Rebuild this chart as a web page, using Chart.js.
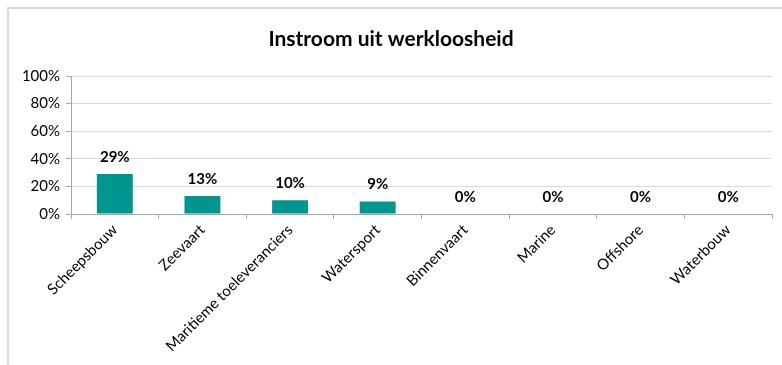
<!DOCTYPE html>
<html>
<head>
<meta charset="utf-8">
<script src="https://cdn.jsdelivr.net/npm/chart.js@4"></script>
<style>
    html, body { margin: 0; padding: 0; background: #fff; }
    #wrap { position: relative; width: 782px; height: 365px; }
    #frame {
        position: absolute; left: 7px; top: 7px; right: 0; bottom: 0;
        border-left: 2px solid #d9d9d9; border-top: 2px solid #d9d9d9;
        pointer-events: none;
    }
</style>
</head>
<body>
<div id="wrap">
    <canvas id="instroomChart" width="782" height="365"></canvas>
    <div id="frame"></div>
</div>
<script>
/* ------------------------------------------------------------
   Data
   ------------------------------------------------------------ */
const sectoren = ["Scheepsbouw", "Zeevaart", "Maritieme toeleveranciers", "Watersport",
                  "Binnenvaart", "Marine", "Offshore", "Waterbouw"];
const instroom = [29, 13, 10, 9, 0, 0, 0, 0];
const yTicks = [0, 20, 40, 60, 80, 100];

const FONT = "Lato, 'Open Sans', sans-serif";

/* ------------------------------------------------------------
   Value labels above the bars
   ------------------------------------------------------------ */
const valueLabels = {
    id: "valueLabels",
    afterDatasetsDraw(chart) {
        const ctx = chart.ctx;
        const meta = chart.getDatasetMeta(0);
        ctx.save();
        ctx.font = "bold 15px " + FONT;
        ctx.fillStyle = "#000";
        ctx.textAlign = "center";
        ctx.textBaseline = "middle";
        meta.data.forEach((bar, i) => {
            ctx.fillText(instroom[i] + "%", bar.x, bar.y - 17);
        });
        ctx.restore();
    }
};

new Chart(document.getElementById("instroomChart"), {
    type: "bar",
    data: {
        labels: sectoren,
        datasets: [{
            data: instroom,
            backgroundColor: "#00968f",
            categoryPercentage: 1,
            barPercentage: 0.41
        }]
    },
    options: {
        responsive: false,
        animation: false,
        layout: { padding: { top: 27, left: 10, right: 10, bottom: 0 } },
        plugins: {
            legend: { display: false },
            tooltip: { enabled: false },
            title: {
                display: true,
                text: "Instroom uit werkloosheid",
                color: "#000",
                font: { family: FONT, size: 21, weight: "bold", lineHeight: 1.2 },
                padding: { top: 0, bottom: 23.8 }
            }
        },
        scales: {
            x: {
                grid: { drawOnChartArea: false, color: "#a6a6a6", tickLength: 5 },
                border: { color: "#a6a6a6" },
                ticks: {
                    color: "#000",
                    font: { family: FONT, size: 15 },
                    minRotation: 45,
                    maxRotation: 45,
                    padding: 2
                },
                afterFit(scale) { scale.height = 151; }
            },
            y: {
                min: 0,
                max: 100,
                afterBuildTicks(scale) { scale.ticks = yTicks.map(v => ({ value: v })); },
                grid: { color: "#d9d9d9", tickColor: "#a6a6a6", tickLength: 5 },
                border: { color: "#a6a6a6" },
                ticks: {
                    color: "#000",
                    font: { family: FONT, size: 15 },
                    padding: 6,
                    callback: v => v + "%"
                },
                afterFit(scale) { scale.width = 61; }
            }
        }
    },
    plugins: [valueLabels]
});
</script>
</body>
</html>
